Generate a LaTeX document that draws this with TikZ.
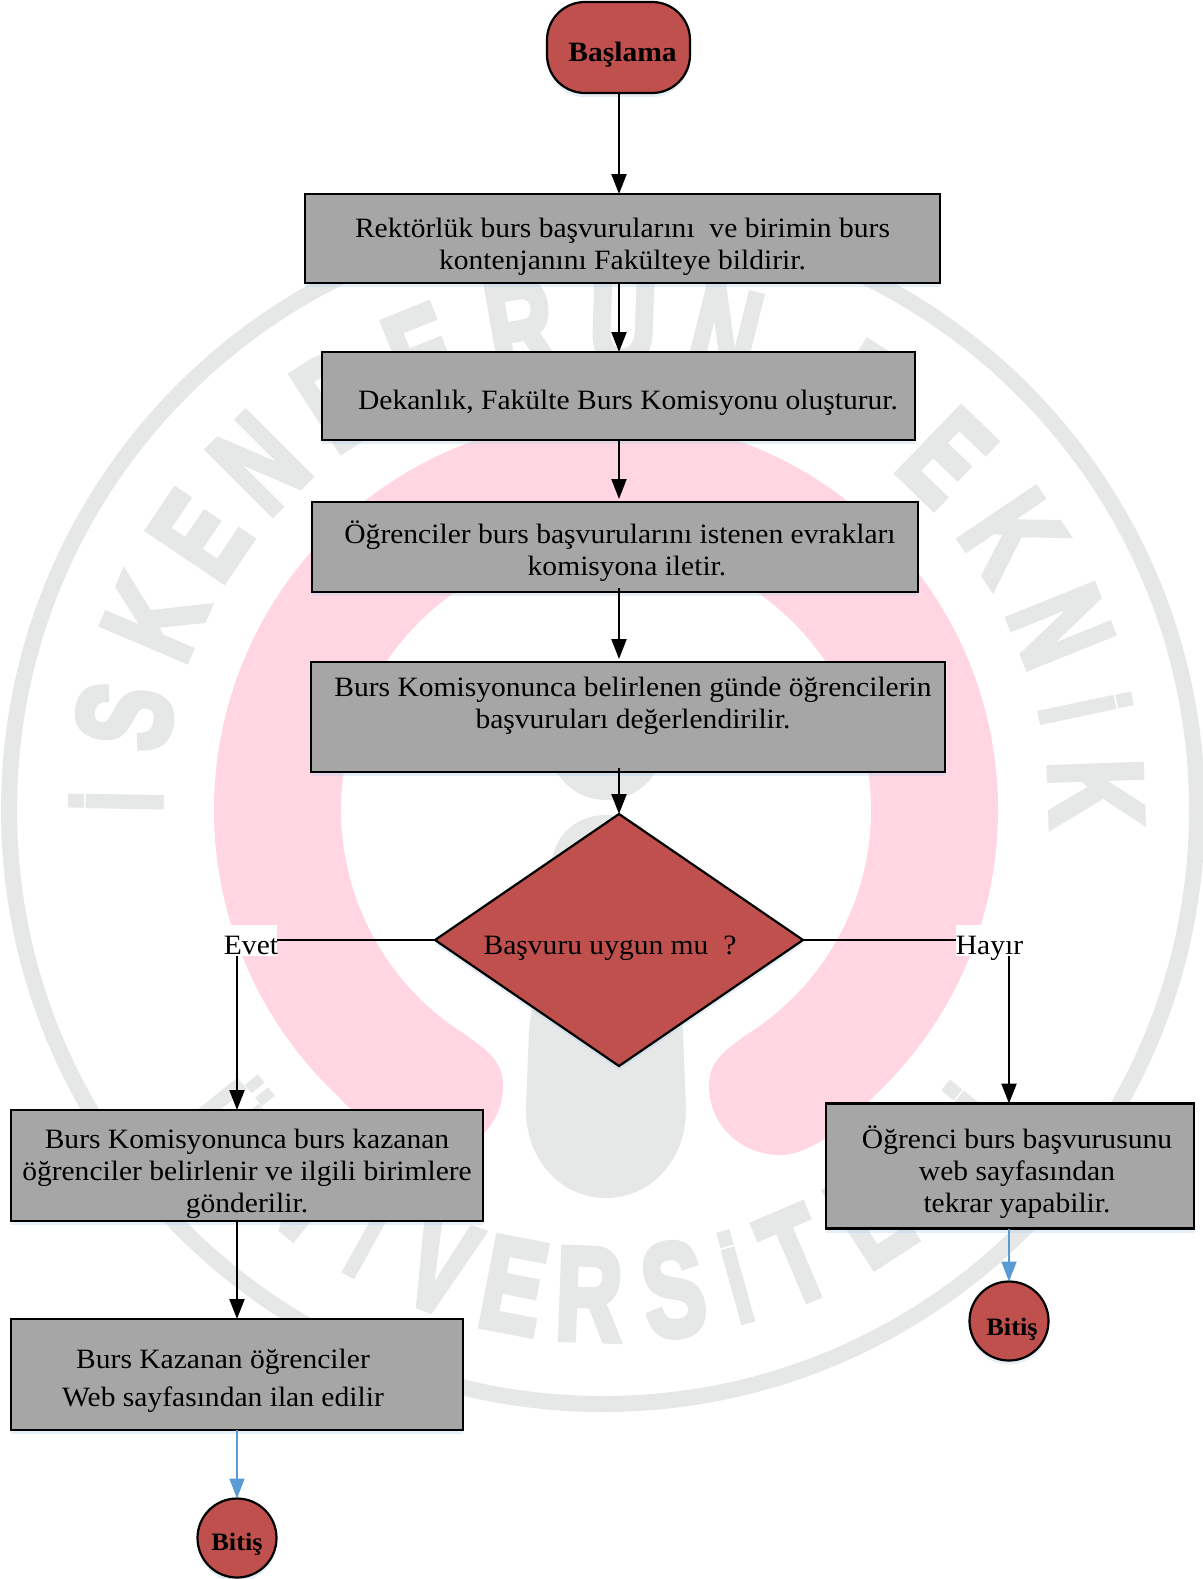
\documentclass[tikz,border=0pt]{standalone}
\usepackage{fontspec}
\setmainfont{Liberation Serif}[FakeStretch=1.055]
\newfontfamily\wmfont{Liberation Sans Bold}[FakeBold=5]
\usetikzlibrary{arrows.meta,shapes.geometric,shadows}
\definecolor{nodered}{HTML}{C0504D}
\definecolor{boxgray}{HTML}{A6A6A6}
\definecolor{wmgray}{HTML}{E6E8E8}
\definecolor{wmpink}{HTML}{FFD6E2}
\definecolor{linkblue}{HTML}{5B9BD5}
\newcommand\boxtext[3]{\raisebox{\dimexpr #2-9pt\relax}[0pt][0pt]{\makebox[0pt]{\hspace*{\dimexpr 2\dimexpr #1\relax\relax}\begin{tabular}{@{}c@{}}#3\end{tabular}}}}
\tikzset{
  glow/.style={general shadow={shadow xshift=0pt,shadow yshift=-4pt,fill=linkblue!45,opacity=.35}},
  flowbase/.style={draw=black,line width=2.2pt,inner sep=0pt,outer sep=0pt,glow,font=\fontsize{28}{32}\selectfont},
  procbox/.style={flowbase,rectangle,fill=boxgray},
  startbox/.style={flowbase,rectangle,rounded corners=38pt,fill=nodered,font=\fontsize{28}{32}\selectfont\bfseries},
  endcircle/.style={flowbase,circle,fill=nodered,minimum size=79pt,font=\fontsize{25}{30}\selectfont\bfseries},
  decision/.style={flowbase,diamond,fill=nodered,minimum width=368pt,minimum height=252pt,aspect=1.46},
  flowarrow/.style={draw=black,line width=2.2pt,-{Triangle[length=20pt,width=15pt]}},
  bluearrow/.style={draw=linkblue,line width=1.6pt,-{Triangle[length=20pt,width=15pt]}},
  branch/.style={fill=white,inner sep=0pt,minimum width=51pt,minimum height=31pt,font=\fontsize{28}{32}\selectfont},
  wmletter/.style={text=wmgray,inner sep=0pt,outer sep=0pt,anchor=base,font=\wmfont\fontsize{132}{135}\selectfont},
}
\begin{document}
\begin{tikzpicture}[x=1pt,y=-1pt]
\useasboundingbox (0,0) rectangle (1202,1579);
\fill[white] (0,0) rectangle (1202,1579);
% watermark
\begin{scope}[shift={(606,810)},x=1pt,y=1pt]
  \fill[wmpink] (-47:392) arc[start angle=-47,end angle=227,radius=392]
    .. controls (-245,-312) and (-205,-345) .. (-174,-345)
    .. controls (-135,-345) and (-103,-315) .. (-103,-276)
    .. controls (-103,-250) and (-120,-240) .. (238:265)
    arc[start angle=238,end angle=-58,radius=265]
    .. controls (120,-240) and (103,-250) .. (103,-276)
    .. controls (103,-315) and (135,-345) .. (174,-345)
    .. controls (205,-345) and (245,-312) .. (-47:392) -- cycle;
  \fill[wmgray] (0,68) circle[radius=58];
  \fill[wmgray] (0,-5)
    .. controls (-30,-5) and (-50,-25) .. (-54,-50)
    -- (-77,-220) -- (-80,-300)
    .. controls (-80,-350) and (-45,-388) .. (0,-388)
    .. controls (45,-388) and (80,-350) .. (80,-300)
    -- (77,-220) -- (54,-50)
    .. controls (50,-25) and (30,-5) .. (0,-5) -- cycle;
  \draw[wmgray,line width=16pt] (-3,0) circle[radius=594];
  \foreach \l/\a/\s [count=\i] in {İ/179/.8,S/169/1,K/157/1,E/146/1,N/135/1,D/123/1,E/112/1,R/100/1,U/88/1,N/76/1,T/58/1,E/46/1,K/34/1,N/22/1,İ/12/.8,K/2/1}
    \node[wmletter,rotate=\a-90] (wmt\i) at (\a:445) {\scalebox{.7}[1]{\scalebox{\s}{\l}}};
  \foreach \l/\a/\s [count=\i] in {Ü/-141/.8,N/-129/1,İ/-119/.8,V/-110/1,E/-101/1,R/-92/1,S/-82/1,İ/-74.5/.8,T/-67/1,E/-57/1,S/-47/1,İ/-39/.8}
    \node[wmletter,rotate=\a+90] (wmb\i) at (\a:530) {\scalebox{.7}[1]{\scalebox{\s}{\l}}};
\end{scope}
% flow nodes
\node[startbox,minimum width=143pt,minimum height=91pt] (start) at (618.5,47.5) {\boxtext{4pt}{-5pt}{Başlama}};
\node[procbox,minimum width=635pt,minimum height=89pt] (b1) at (622.5,238.5) {\boxtext{0pt}{-6pt}{Rektörlük burs başvurularını\ \ ve birimin burs\\kontenjanını Fakülteye bildirir.}};
\node[procbox,minimum width=593pt,minimum height=88pt] (b2) at (618.5,396) {\boxtext{9.5pt}{-4pt}{Dekanlık, Fakülte Burs Komisyonu oluşturur.}};
\node[procbox,minimum width=606pt,minimum height=90pt] (b3) at (615,547) {\boxtext{5pt}{-3pt}{Öğrenciler burs başvurularını istenen evrakları\\\hspace*{14pt}komisyona iletir.}};
\node[procbox,minimum width=634pt,minimum height=110pt] (b4) at (628,717) {\boxtext{5pt}{14pt}{Burs Komisyonunca belirlenen günde öğrencilerin\\başvuruları değerlendirilir.}};
\node[decision] (dec) at (619,940) {\boxtext{-9pt}{-5pt}{Başvuru uygun mu\ \ ?}};
\node[procbox,minimum width=472pt,minimum height=111pt] (bk) at (247,1165.5) {\boxtext{0pt}{-5.5pt}{Burs Komisyonunca burs kazanan\\öğrenciler belirlenir ve ilgili birimlere\\gönderilir.}};
\node[procbox,minimum width=368pt,minimum height=125pt] (bh) at (1010,1166) {\boxtext{7pt}{-5pt}{Öğrenci burs başvurusunu\\web sayfasından\\tekrar yapabilir.}};
\node[procbox,minimum width=452pt,minimum height=111pt] (bi) at (237,1374.5) {\boxtext{-14pt}{-3.5pt}{Burs Kazanan öğrenciler\\[6pt]Web sayfasından ilan edilir}};
\node[endcircle] (endl) at (237,1538) {\boxtext{0pt}{-4pt}{Bitiş}};
\node[endcircle] (endr) at (1009,1321) {\boxtext{3pt}{-6pt}{Bitiş}};
% connectors
\coordinate (spine) at (619,0);
\coordinate (yesturn) at (237,940);
\coordinate (noturn) at (1009,940);
\draw[flowarrow] (spine |- start.south) -- (spine |- b1.north);
\draw[flowarrow] (spine |- b1.south) -- (spine |- b2.north);
\draw[flowarrow] (spine |- b2.south) -- ([yshift=3pt]spine |- b3.north);
\draw[flowarrow] ([yshift=4pt]spine |- b3.south) -- ([yshift=3pt]spine |- b4.north);
\draw[flowarrow] ([yshift=4pt]spine |- b4.south) -- (dec.north);
\draw[line width=2.2pt,line join=miter] (dec.west) -- (yesturn);
\draw[flowarrow] (yesturn) -- (yesturn |- bk.north);
\draw[line width=2.2pt] (dec.east) -- (noturn);
\draw[flowarrow] (noturn) -- (noturn |- bh.north);
\draw[flowarrow] (yesturn |- bk.south) -- (yesturn |- bi.north);
\draw[bluearrow] (yesturn |- bi.south) -- (endl.north);
\draw[bluearrow] (noturn |- bh.south) -- (endr.north);
\node[branch] (evet) at (251,940.5) {\boxtext{0pt}{-5pt}{Evet}};
\node[branch,minimum width=67pt] (hayir) at (989.5,940.5) {\boxtext{0pt}{-5pt}{Hayır}};
\end{tikzpicture}
\end{document}
